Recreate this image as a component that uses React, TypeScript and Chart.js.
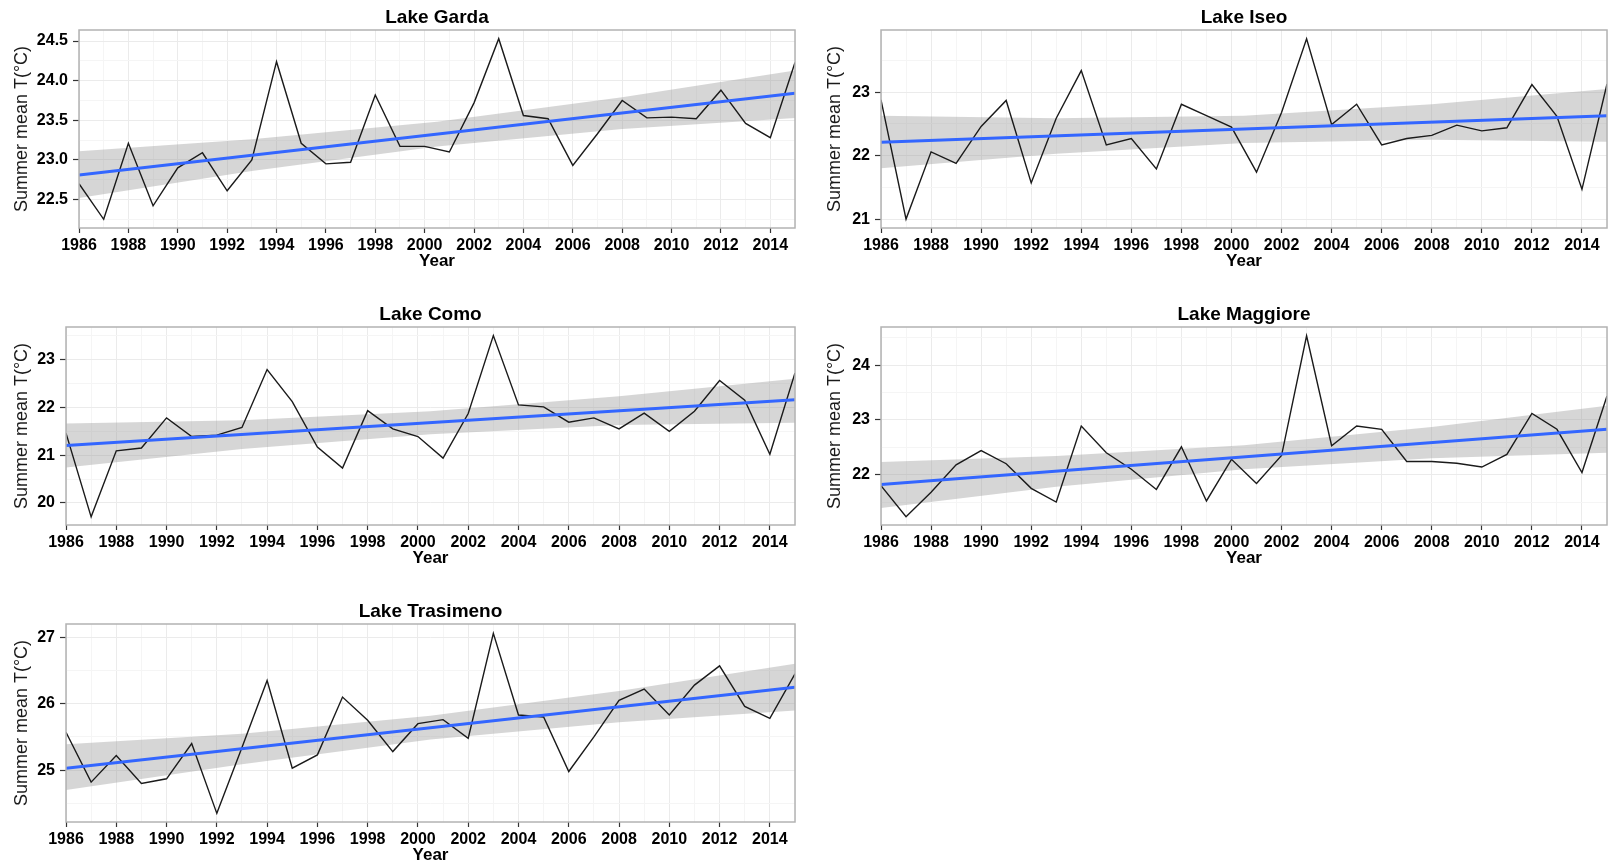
import React, { useEffect, useRef } from 'react';
import { Chart, registerables } from 'chart.js';

Chart.register(...registerables);

// ---------------- data ----------------
const years = [
  1986, 1987, 1988, 1989, 1990, 1991, 1992, 1993, 1994, 1995,
  1996, 1997, 1998, 1999, 2000, 2001, 2002, 2003, 2004, 2005,
  2006, 2007, 2008, 2009, 2010, 2011, 2012, 2013, 2014, 2015,
];

const gardaTemp = [22.70, 22.25, 23.21, 22.42, 22.90, 23.09, 22.61, 23.00, 24.24, 23.21, 22.95, 22.97, 23.82, 23.17, 23.17, 23.10, 23.72, 24.53, 23.56, 23.52, 22.93, 23.33, 23.75, 23.53, 23.54, 23.52, 23.88, 23.46, 23.28, 24.23];
const iseoTemp = [22.88, 21.00, 22.06, 21.88, 22.46, 22.87, 21.57, 22.59, 23.34, 22.17, 22.27, 21.79, 22.81, 22.63, 22.45, 21.74, 22.68, 23.84, 22.49, 22.81, 22.17, 22.27, 22.32, 22.48, 22.39, 22.44, 23.12, 22.62, 21.47, 23.13];
const comoTemp = [21.46, 19.71, 21.09, 21.15, 21.78, 21.39, 21.42, 21.58, 22.79, 22.12, 21.17, 20.73, 21.93, 21.55, 21.39, 20.94, 21.87, 23.50, 22.05, 22.01, 21.69, 21.78, 21.55, 21.88, 21.50, 21.92, 22.56, 22.15, 21.02, 22.72];
const maggioreTemp = [21.80, 21.23, 21.68, 22.18, 22.44, 22.20, 21.75, 21.50, 22.89, 22.40, 22.10, 21.73, 22.51, 21.52, 22.28, 21.84, 22.35, 24.54, 22.53, 22.89, 22.83, 22.24, 22.24, 22.21, 22.14, 22.37, 23.12, 22.83, 22.04, 23.44];
const trasimenoTemp = [25.57, 24.82, 25.22, 24.80, 24.87, 25.40, 24.35, 25.34, 26.35, 25.03, 25.23, 26.10, 25.75, 25.28, 25.70, 25.76, 25.48, 27.06, 25.83, 25.80, 24.98, 25.50, 26.05, 26.22, 25.83, 26.28, 26.57, 25.96, 25.78, 26.45];

// linear trend (end points)
const fitYears = [1986, 2015];
const gardaFit = [22.81, 23.84];
const iseoFit = [22.21, 22.63];
const comoFit = [21.20, 22.16];
const maggioreFit = [21.82, 22.83];
const trasimenoFit = [25.03, 26.25];

// confidence band
const bandYears = [1986, 1993, 2000.5, 2008, 2015];
const gardaBandLow = [22.52, 22.86, 23.17, 23.39, 23.53];
const gardaBandHigh = [23.11, 23.26, 23.48, 23.79, 24.13];
const iseoBandLow = [21.80, 22.03, 22.20, 22.25, 22.22];
const iseoBandHigh = [22.63, 22.59, 22.63, 22.81, 23.05];
const comoBandLow = [20.74, 21.13, 21.44, 21.63, 21.68];
const comoBandHigh = [21.66, 21.73, 21.92, 22.23, 22.60];
const maggioreBandLow = [21.39, 21.78, 22.10, 22.30, 22.40];
const maggioreBandHigh = [22.23, 22.34, 22.54, 22.87, 23.26];
const trasimenoBandLow = [24.70, 25.09, 25.46, 25.72, 25.90];
const trasimenoBandHigh = [25.39, 25.55, 25.82, 26.19, 26.60];

// axis ranges and tick steps
const gardaYRange = [22.14, 24.64];
const iseoYRange = [20.86, 23.98];
const comoYRange = [19.54, 23.68];
const maggioreYRange = [21.08, 24.70];
const trasimenoYRange = [24.22, 27.20];
const gardaYMajorStep = 0.5;
const otherYMajorStep = 1;
const xLabelStep = 2;

const lakeNames = ['Lake Garda', 'Lake Iseo', 'Lake Como', 'Lake Maggiore', 'Lake Trasimeno'];

// ---------------- layout ----------------
const FONT = '"Liberation Sans", Arial, Helvetica, sans-serif';
const CANVAS_W = 805;
const CANVAS_H = 275;
const PLOT_TOP_OFFSET = 30;
const PLOT_H = 198;
const X_AXIS_H = 43.2;
const Y_TITLE_SIZE = 18;

type PanelCfg = {
  name: string;
  temp: number[];
  fit: number[];
  bandLow: number[];
  bandHigh: number[];
  yRange: number[];
  majorStep: number;
  decimals: number;
  canvasLeft: number;
  canvasTop: number;
  plotLeft: number;
  plotRight: number;
  yLabelX: number;
};

const rowPlotTops = [30, 327, 624];

const panels: PanelCfg[] = [
  { name: lakeNames[0], temp: gardaTemp, fit: gardaFit, bandLow: gardaBandLow, bandHigh: gardaBandHigh, yRange: gardaYRange, majorStep: gardaYMajorStep, decimals: 1, canvasLeft: 0, canvasTop: rowPlotTops[0] - PLOT_TOP_OFFSET, plotLeft: 79, plotRight: 795, yLabelX: 22 },
  { name: lakeNames[1], temp: iseoTemp, fit: iseoFit, bandLow: iseoBandLow, bandHigh: iseoBandHigh, yRange: iseoYRange, majorStep: otherYMajorStep, decimals: 0, canvasLeft: 805, canvasTop: rowPlotTops[0] - PLOT_TOP_OFFSET, plotLeft: 881, plotRight: 1610, yLabelX: 835 },
  { name: lakeNames[2], temp: comoTemp, fit: comoFit, bandLow: comoBandLow, bandHigh: comoBandHigh, yRange: comoYRange, majorStep: otherYMajorStep, decimals: 0, canvasLeft: 0, canvasTop: rowPlotTops[1] - PLOT_TOP_OFFSET, plotLeft: 66, plotRight: 795, yLabelX: 22 },
  { name: lakeNames[3], temp: maggioreTemp, fit: maggioreFit, bandLow: maggioreBandLow, bandHigh: maggioreBandHigh, yRange: maggioreYRange, majorStep: otherYMajorStep, decimals: 0, canvasLeft: 805, canvasTop: rowPlotTops[1] - PLOT_TOP_OFFSET, plotLeft: 881, plotRight: 1610, yLabelX: 835 },
  { name: lakeNames[4], temp: trasimenoTemp, fit: trasimenoFit, bandLow: trasimenoBandLow, bandHigh: trasimenoBandHigh, yRange: trasimenoYRange, majorStep: otherYMajorStep, decimals: 0, canvasLeft: 0, canvasTop: rowPlotTops[2] - PLOT_TOP_OFFSET, plotLeft: 66, plotRight: 795, yLabelX: 22 },
];

const borderPlugin = {
  id: 'panelBorder',
  afterDatasetsDraw(chart: any) {
    const { ctx, chartArea } = chart;
    ctx.save();
    ctx.strokeStyle = '#b3b3b3';
    ctx.lineWidth = 1.5;
    ctx.strokeRect(chartArea.left, chartArea.top, chartArea.right - chartArea.left, chartArea.bottom - chartArea.top);
    ctx.restore();
  },
};

function isMajor(v: number, step: number) {
  const r = v / step;
  return Math.abs(r - Math.round(r)) < 1e-6;
}

function Panel({ cfg }: { cfg: PanelCfg }) {
  const ref = useRef<HTMLCanvasElement>(null);

  useEffect(() => {
    if (!ref.current) return;
    const minorStep = cfg.majorStep / 2;
    const [yMin, yMax] = cfg.yRange;
    const yTicks: number[] = [];
    for (let k = Math.ceil(yMin / minorStep - 1e-9); k * minorStep <= yMax + 1e-9; k++) {
      yTicks.push(Math.round(k * minorStep * 1000) / 1000);
    }
    const yAxisWidth = cfg.plotLeft - cfg.canvasLeft;
    const padRight = cfg.canvasLeft + CANVAS_W - cfg.plotRight;
    const padBottom = CANVAS_H - PLOT_TOP_OFFSET - PLOT_H - X_AXIS_H;
    const yTitlePad = cfg.yLabelX - cfg.canvasLeft - (Y_TITLE_SIZE * 1.2) / 2;

    const chart = new Chart(ref.current, {
      type: 'line',
      data: {
        datasets: [
          {
            label: 'fit',
            data: fitYears.map((x, i) => ({ x, y: cfg.fit[i] })),
            borderColor: '#3366FF',
            borderWidth: 3,
            pointRadius: 0,
            fill: false,
          },
          {
            label: 'temperature',
            data: years.map((x, i) => ({ x, y: cfg.temp[i] })),
            borderColor: '#1a1a1a',
            borderWidth: 1.4,
            pointRadius: 0,
            tension: 0,
            fill: false,
          },
          {
            label: 'upper',
            data: bandYears.map((x, i) => ({ x, y: cfg.bandHigh[i] })),
            borderColor: 'rgba(0,0,0,0)',
            borderWidth: 0,
            pointRadius: 0,
            backgroundColor: 'rgba(153,153,153,0.4)',
            fill: '+1',
          },
          {
            label: 'lower',
            data: bandYears.map((x, i) => ({ x, y: cfg.bandLow[i] })),
            borderColor: 'rgba(0,0,0,0)',
            borderWidth: 0,
            pointRadius: 0,
            fill: false,
          },
        ],
      },
      options: {
        responsive: false,
        animation: false,
        events: [],
        layout: { padding: { left: 0, right: padRight, top: 0, bottom: padBottom } },
        plugins: {
          legend: { display: false },
          tooltip: { enabled: false },
          title: {
            display: true,
            text: cfg.name,
            fullSize: false,
            color: '#000',
            font: { family: FONT, size: 19, weight: 'bold' },
            padding: { top: 6.6, bottom: 0.6 },
          },
        },
        scales: {
          x: {
            type: 'linear',
            min: years[0],
            max: years[years.length - 1],
            afterBuildTicks: (axis: any) => {
              axis.ticks = years.map((v) => ({ value: v }));
            },
            afterFit: (axis: any) => {
              axis.height = X_AXIS_H;
            },
            ticks: {
              autoSkip: false,
              maxRotation: 0,
              minRotation: 0,
              padding: 3,
              color: '#000',
              font: { family: FONT, size: 16, weight: 'bold' },
              callback: (v: any) => ((v - years[0]) % xLabelStep === 0 ? String(v) : ''),
            },
            grid: {
              color: (c: any) => ((c.tick && (c.tick.value - years[0]) % xLabelStep === 0) ? '#ebebeb' : '#f5f5f5'),
              lineWidth: 1,
              drawTicks: true,
              tickLength: 5,
              tickWidth: 1.2,
              tickColor: (c: any) => ((c.tick && (c.tick.value - years[0]) % xLabelStep === 0) ? '#333' : 'rgba(0,0,0,0)'),
            },
            border: { display: false },
            title: {
              display: true,
              text: 'Year',
              color: '#000',
              font: { family: FONT, size: 17, weight: 'bold' },
              padding: { top: 0, bottom: 0 },
            },
          },
          y: {
            type: 'linear',
            min: yMin,
            max: yMax,
            afterBuildTicks: (axis: any) => {
              axis.ticks = yTicks.map((v) => ({ value: v }));
            },
            afterFit: (axis: any) => {
              axis.width = yAxisWidth;
            },
            ticks: {
              autoSkip: false,
              padding: 5,
              color: '#000',
              font: { family: FONT, size: 16, weight: 'bold' },
              callback: (v: any) => (isMajor(v, cfg.majorStep) ? Number(v).toFixed(cfg.decimals) : ''),
            },
            grid: {
              color: (c: any) => ((c.tick && isMajor(c.tick.value, cfg.majorStep)) ? '#ebebeb' : '#f5f5f5'),
              lineWidth: 1,
              drawTicks: true,
              tickLength: 6,
              tickWidth: 1.2,
              tickColor: (c: any) => ((c.tick && isMajor(c.tick.value, cfg.majorStep)) ? '#333' : 'rgba(0,0,0,0)'),
            },
            border: { display: false },
            title: {
              display: true,
              text: 'Summer mean T(°C)',
              color: '#1a1a1a',
              font: { family: FONT, size: Y_TITLE_SIZE, weight: 'normal' },
              padding: { top: yTitlePad, bottom: 0 },
            },
          },
        },
      },
      plugins: [borderPlugin],
    } as any);

    return () => chart.destroy();
  }, [cfg]);

  return (
    <canvas
      ref={ref}
      width={CANVAS_W}
      height={CANVAS_H}
      style={{ position: 'absolute', left: cfg.canvasLeft, top: cfg.canvasTop, width: CANVAS_W, height: CANVAS_H }}
    />
  );
}

export default function App() {
  return (
    <div
      style={{
        position: 'fixed',
        left: 0,
        top: 0,
        width: 1610,
        height: 867,
        overflow: 'hidden',
        background: '#ffffff',
      }}
    >
      {panels.map((p) => (
        <Panel key={p.name} cfg={p} />
      ))}
    </div>
  );
}
